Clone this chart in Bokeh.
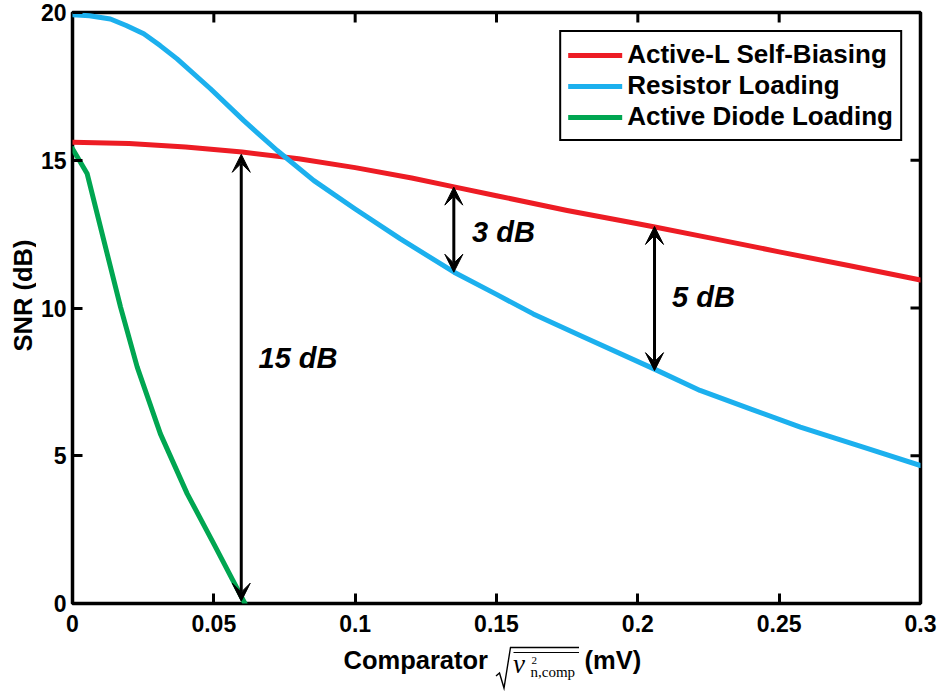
from math import pi
from bokeh.plotting import figure
from bokeh.layouts import row, column
from bokeh.models import Range1d, FixedTicker, Legend, LegendItem, Label, Arrow, VeeHead
from bokeh.core.properties import value
from bokeh.embed import file_html
from bokeh.resources import INLINE

# ---------------- data ----------------
active_l_x = [0.0, 0.02, 0.04, 0.06, 0.08, 0.10, 0.12, 0.135, 0.15, 0.175, 0.20, 0.206, 0.225, 0.25, 0.275, 0.30]
active_l_y = [15.61, 15.57, 15.45, 15.28, 15.05, 14.75, 14.40, 14.10, 13.80, 13.30, 12.85, 12.74, 12.38, 11.90, 11.43, 10.95]

resistor_x = [0.0, 0.006, 0.0134, 0.019, 0.0252, 0.031, 0.037, 0.0488, 0.0606, 0.0724, 0.0854, 0.10, 0.116, 0.135,
              0.15, 0.163, 0.18, 0.2057, 0.222, 0.24, 0.2575, 0.28, 0.30]
resistor_y = [19.92, 19.89, 19.78, 19.56, 19.28, 18.88, 18.43, 17.42, 16.34, 15.33, 14.31, 13.35, 12.34, 11.21,
              10.46, 9.80, 9.05, 7.94, 7.21, 6.58, 5.97, 5.28, 4.67]

diode_x = [0.0, 0.0052, 0.0111, 0.017, 0.0229, 0.0311, 0.0406, 0.050, 0.061]
diode_y = [15.39, 14.54, 12.28, 10.03, 8.00, 5.74, 3.71, 2.02, 0.0]

series_names = ["Active-L Self-Biasing", "Resistor Loading", "Active Diode Loading"]
series_colors = ["#ED1C24", "#1CB0EE", "#00A651"]

x_ticks = [0, 0.05, 0.1, 0.15, 0.2, 0.25, 0.3]
x_tick_labels = ["0", "0.05", "0.1", "0.15", "0.2", "0.25", "0.3"]
y_ticks = [0, 5, 10, 15, 20]
y_tick_labels = ["0", "5", "10", "15", "20"]

gap_x = [0.0597, 0.1349, 0.2059]
gap_top = [15.20, 14.09, 12.76]
gap_bottom = [0.08, 11.21, 7.88]
gap_labels = ["15 dB", "3 dB", "5 dB"]

y_label = "SNR (dB)"
x_label_parts = ["Comparator", "v", "2", "n,comp", "(mV)"]

# ---------------- layout ----------------
W, H = 944, 692
LEFT_STRIP = 36
BOTTOM_STRIP = 48
MAIN_W, MAIN_H = W - LEFT_STRIP, H - BOTTOM_STRIP
FL, FR, FT, FB = 72, 920, 12, 603          # frame edges in page pixels
X0, X1, Y0, Y1 = 0.0, 0.3, 0.0, 20.0
TICK = 10

SANS = "Liberation Sans"
SERIF = "Liberation Serif"


def dx(px):
    return X0 + (px - FL) / (FR - FL) * (X1 - X0)


def dy(py):
    return Y0 + (FB - py) / (FB - FT) * (Y1 - Y0)


p = figure(width=MAIN_W, height=MAIN_H, output_backend="svg", toolbar_location=None,
           x_range=Range1d(X0, X1), y_range=Range1d(Y0, Y1),
           min_border_left=FL - LEFT_STRIP, min_border_right=W - FR,
           min_border_top=FT, min_border_bottom=MAIN_H - FB)
p.background_fill_color = "white"
p.border_fill_color = "white"
p.grid.visible = False
p.outline_line_color = "black"
p.outline_line_width = 3.5
p.outline_line_alpha = 1.0

for ax, ticks, labels in [(p.xaxis[0], x_ticks, x_tick_labels), (p.yaxis[0], y_ticks, y_tick_labels)]:
    ax.ticker = FixedTicker(ticks=ticks)
    ax.major_label_overrides = {t: l for t, l in zip(ticks, labels)}
    ax.axis_line_color = None
    ax.major_tick_in = TICK
    ax.major_tick_out = 0
    ax.major_tick_line_width = 3
    ax.major_tick_line_color = "black"
    ax.minor_tick_line_color = None
    ax.major_label_text_font = SANS
    ax.major_label_text_font_style = "bold"
    ax.major_label_text_font_size = "23px"
    ax.major_label_text_color = "black"
p.xaxis[0].major_label_standoff = 11
p.yaxis[0].major_label_standoff = 6

# mirrored ticks on the top and right edges of the box
tick_dy = TICK * (Y1 - Y0) / (FB - FT)
tick_dx = TICK * (X1 - X0) / (FR - FL)
top_t = [t for t in x_ticks if X0 < t < X1]
right_t = [t for t in y_ticks if Y0 < t < Y1]
p.segment(x0=top_t, y0=[Y1] * len(top_t), x1=top_t, y1=[Y1 - tick_dy] * len(top_t),
          line_color="black", line_width=3)
p.segment(x0=[X1] * len(right_t), y0=right_t, x1=[X1 - tick_dx] * len(right_t), y1=right_t,
          line_color="black", line_width=3)

# ---------------- curves ----------------
renderers = []
for xs, ys, c in zip([active_l_x, resistor_x, diode_x], [active_l_y, resistor_y, diode_y], series_colors):
    r = p.line(xs, ys, line_color=c, line_width=5, line_join="round", line_cap="round")
    renderers.append(r)

# ---------------- gap arrows ----------------
for gx, gt, gb in zip(gap_x, gap_top, gap_bottom):
    p.add_layout(Arrow(x_start=gx, y_start=gb, x_end=gx, y_end=gt,
                       line_color="black", line_width=3,
                       start=VeeHead(size=18, fill_color="black", line_color="black", line_width=1),
                       end=VeeHead(size=18, fill_color="black", line_color="black", line_width=1)))

gap_label_px = [(258, 357.5), (471.5, 231.7), (671.5, 296.7)]
for txt, (lx, ly) in zip(gap_labels, gap_label_px):
    p.add_layout(Label(x=dx(lx), y=dy(ly), text=txt, text_font=SANS, text_font_style="bold italic",
                       text_font_size="29px", text_color="black",
                       text_align="left", text_baseline="middle"))

# ---------------- legend ----------------
legend = Legend(items=[LegendItem(label=n, renderers=[r]) for n, r in zip(series_names, renderers)],
                location="top_right", margin=18, padding=7, spacing=0,
                glyph_width=54, glyph_height=26, label_height=26, label_standoff=5,
                label_text_font=SANS, label_text_font_style="bold", label_text_font_size="26px",
                label_text_color="black",
                border_line_color="black", border_line_width=2.5, border_line_alpha=1.0,
                background_fill_color="white", background_fill_alpha=1.0)
p.add_layout(legend)


def strip(width, height, x_range, y_range, **borders):
    s = figure(width=width, height=height, output_backend="svg", toolbar_location=None,
               x_range=x_range, y_range=y_range, x_axis_location=None, y_axis_location=None,
               **borders)
    s.grid.visible = False
    s.outline_line_color = None
    s.background_fill_color = "white"
    s.border_fill_color = "white"
    return s


# ---------------- y label (left strip, page pixel coordinates, y measured up from page bottom) ----------------
ls = strip(LEFT_STRIP, H, Range1d(0, LEFT_STRIP), Range1d(0, H),
           min_border_left=0, min_border_right=0, min_border_top=0, min_border_bottom=0)
ls.text(x=[22], y=[H - 295], text=[y_label], angle=pi / 2, text_font=value(SANS),
        text_font_style="bold", text_font_size="25.5px", text_color="black",
        text_align="center", text_baseline="middle")

# ---------------- x label (bottom strip; its frame lines up with the main frame) ----------------
bs = strip(MAIN_W, BOTTOM_STRIP, Range1d(FL, FR), Range1d(0, BOTTOM_STRIP),
           min_border_left=FL - LEFT_STRIP, min_border_right=W - FR, min_border_top=0, min_border_bottom=0)


def by(py):
    return H - py


bs.text(x=[343, 584], y=[by(659), by(659)], text=[x_label_parts[0], x_label_parts[4]],
        text_font=value(SANS), text_font_style="bold", text_font_size="25.5px",
        text_color="black", text_align="left", text_baseline="middle")
bs.text(x=[512.5], y=[by(663.5)], text=[x_label_parts[1]], text_font=value(SERIF), text_font_style="italic",
        text_font_size="27px", text_color="black", text_align="left", text_baseline="middle")
bs.text(x=[531], y=[by(659.5)], text=[x_label_parts[2]], text_font=value(SERIF),
        text_font_size="11px", text_color="black", text_align="left", text_baseline="middle")
bs.text(x=[530], y=[by(671)], text=[x_label_parts[3]], text_font=value(SERIF),
        text_font_size="15px", text_color="black", text_align="left", text_baseline="middle")
# radical sign and mean bar
rad_px = [(495.5, 675.5), (499, 672.5), (503.5, 687.5), (510, 647), (578.5, 647)]
bs.line([q[0] for q in rad_px], [by(q[1]) for q in rad_px], line_color="black", line_width=1.4,
        line_join="miter")
bs.line([513, 578.5], [by(652), by(652)], line_color="black", line_width=1.2)

layout = row(ls, column(p, bs, spacing=0), spacing=0)

open("out.html", "w").write(file_html(layout, INLINE))
